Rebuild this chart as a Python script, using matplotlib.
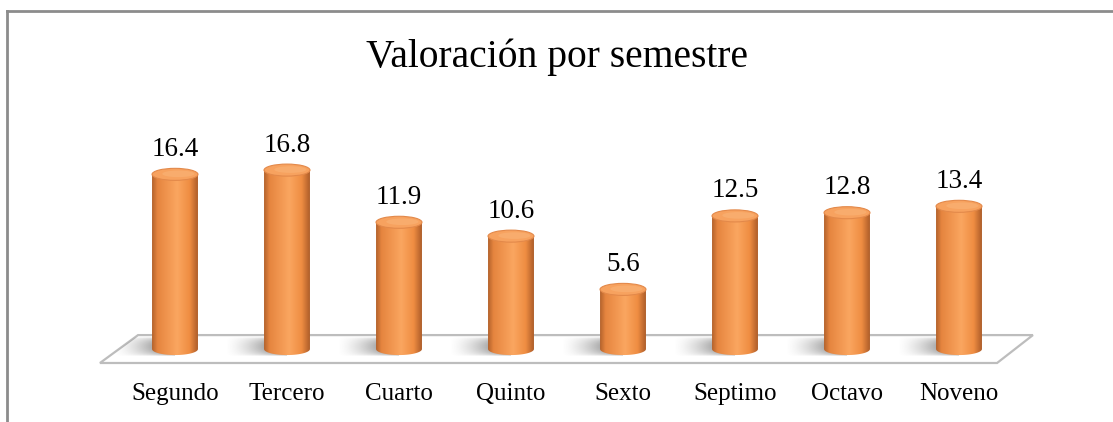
import matplotlib
matplotlib.use("Agg")
import matplotlib.pyplot as plt
import numpy as np
from matplotlib.patches import Ellipse, Polygon, PathPatch
from matplotlib.path import Path
from matplotlib.colors import LinearSegmentedColormap
from matplotlib.lines import Line2D

semestres = ["Segundo", "Tercero", "Cuarto", "Quinto", "Sexto", "Septimo", "Octavo", "Noveno"]
valores = [16.4, 16.8, 11.9, 10.6, 5.6, 12.5, 12.8, 13.4]
titulo = "Valoración por semestre"

plt.rcParams['font.family'] = ['Liberation Serif', 'DejaVu Serif']

# colour ramp across the cylinder body (left -> right)
body_cmap = LinearSegmentedColormap.from_list("body", [
    (0.0, "#b3622c"), (0.12, "#e6853f"), (0.55, "#faa660"),
    (0.82, "#ef8d42"), (1.0, "#ad5d29")])


def cylinder_path(xc, top, w, eh):
    # straight sides plus the rounded lower half of the base
    t = np.linspace(np.pi, 2 * np.pi, 40)
    arc = np.column_stack([xc + w / 2 * np.cos(t), eh / 2 * np.sin(t)])
    verts = np.vstack([[xc - w / 2, top], arc, [xc + w / 2, top], [xc - w / 2, top]])
    codes = [Path.MOVETO] + [Path.LINETO] * (len(verts) - 2) + [Path.CLOSEPOLY]
    return Path(verts, codes)


fig = plt.figure(figsize=(11.13, 4.22), dpi=100)
ax = fig.add_axes([0, 0, 1, 1])
ax.set_xlim(-1.5625, 8.375)
ax.set_ylim(-6.85, 32.77)
ax.axis("off")

# chart frame (the right/bottom sides fall outside the picture)
fig.add_artist(Line2D([0.0063, 0.0063], [0, 0.974], color="#8c8c8c", lw=2,
                      transform=fig.transFigure))
fig.add_artist(Line2D([0.0063, 1.0], [0.974, 0.974], color="#8c8c8c", lw=2,
                      transform=fig.transFigure))

n = len(valores)
x = np.arange(n)
w = 0.41
eh = 1.13

# floor
floor = Polygon([(-0.67, -1.31), (7.34, -1.31), (7.66, 1.31), (-0.33, 1.31)],
                closed=True, facecolor="white", edgecolor="#bdbdbd", lw=1.6, zorder=1)
ax.add_patch(floor)

grad = np.linspace(0, 1, 256).reshape(1, -1)
shadow = np.zeros((64, 256, 4))
shadow[..., :3] = 0.33
sx = np.linspace(0, 1, 256) ** 1.5
sy = np.sin(np.linspace(0, np.pi, 64)) ** 0.5
shadow[..., 3] = 0.95 * sy[:, None] * sx[None, :]

for xi, v in zip(x, valores):
    # soft shadow on the floor, to the left of the base
    sh = ax.imshow(shadow, extent=(xi - 0.55, xi, -0.7, 1.0), aspect="auto",
                   interpolation="bilinear", zorder=2)
    sh.set_clip_path(floor)

    # body
    body = PathPatch(cylinder_path(xi, v, w, eh), facecolor="none", edgecolor="none")
    ax.add_patch(body)
    im = ax.imshow(grad, cmap=body_cmap, extent=(xi - w / 2, xi + w / 2, -eh / 2 - 0.1, v),
                   aspect="auto", interpolation="bilinear", zorder=3)
    im.set_clip_path(body)

    # top cap
    ax.add_patch(Ellipse((xi, v), w, eh, facecolor="#f7a25f", edgecolor="#e3894a",
                         lw=0.8, zorder=4))
    ax.add_patch(Ellipse((xi + 0.03, v + 0.05), w * 0.7, eh * 0.55,
                         facecolor="#f9b173", edgecolor="none", alpha=0.7, zorder=4))

    ax.annotate(f"{v:.1f}", (xi, v), xytext=(0, 18), textcoords="offset points",
                ha="center", va="center", fontsize=19.5, color="black", zorder=5)

for xi, lab in zip(x, semestres):
    ax.text(xi, -4.2, lab, ha="center", va="center", fontsize=18)

fig.text(0.5008, 0.865, titulo, ha="center", va="center", fontsize=28.5)

fig.savefig("out.png", dpi=100)
